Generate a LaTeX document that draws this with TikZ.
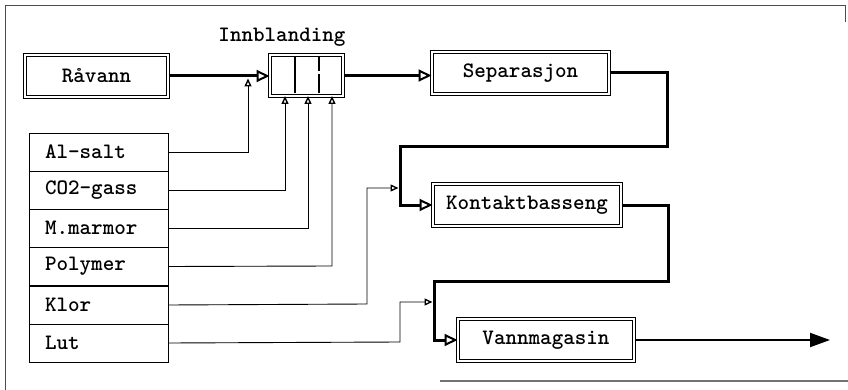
\documentclass[tikz,border=0pt]{standalone}
\usetikzlibrary{arrows.meta}

\tikzset{
  lbl/.style={font=\ttfamily\bfseries\fontsize{22}{22}\selectfont},
  proc/.style={lbl, draw, double, line width=1pt, double distance=2pt, inner sep=0pt},
  item/.style={lbl, draw, line width=0.9pt, minimum width=139pt, minimum height=38pt,
    inner sep=0pt, text width=107pt, align=left},
  feed/.style={line width=0.9pt, -{Triangle[open, length=8pt, width=7pt, line width=1.4pt]}},
  flow/.style={line width=3pt, line join=miter,
    -{Triangle[open, length=13pt, width=12pt, line width=2pt]}},
  outflow/.style={line width=2pt, -{Triangle[length=20pt, width=14pt]}},
  frame/.style={line width=1pt, black!70}
}

\begin{document}
\begin{tikzpicture}[x=1pt, y=-1pt]
  \useasboundingbox (0,0) rectangle (848,390);

  % page frame
  \draw[frame] (5,390) -- (5,6) -- (845,6) -- (845,22);
  \draw[frame, line width=1.5pt, black!55] (440,381) -- (848,381);

  % process boxes
  \node[proc, minimum width=143pt, minimum height=42pt] (ravann) at (96.5,76) {Råvann};
  \node[proc, minimum width=73pt, minimum height=41pt] (mix) at (306.5,75.5) {};
  \node[lbl] (mixlabel) at (282,37) {Innblanding};
  \node[proc, minimum width=177pt, minimum height=42pt] (sep) at (520.5,73) {Separasjon};
  \node[proc, minimum width=188pt, minimum height=42pt] (kont) at (527,205) {Kontaktbasseng};
  \node[proc, minimum width=176pt, minimum height=42pt] (vann) at (546,340) {Vannmagasin};

  % mixer compartments
  \coordinate (d1t) at (295,57.5);
  \coordinate (d1b) at (295,93.5);
  \coordinate (d2t) at (319,57.5);
  \coordinate (d2b) at (319,93.5);
  \draw[line width=1.2pt] (d1t) -- (d1b);
  \draw[line width=1.2pt] (d2t) -- (319,71) (319,74) -- (d2b);

  % chemicals list
  \node[item] (al)   at (98.5,152) {Al-salt};
  \node[item] (co2)  at (98.5,190) {CO2-gass};
  \node[item] (marm) at (98.5,228) {M.marmor};
  \node[item] (poly) at (98.5,266.5) {Polymer};
  \node[item] (klor) at (98.5,305) {Klor};
  \node[item] (lut)  at (98.5,343) {Lut};

  % main water line
  \draw[flow] (ravann.east) -- (ravann.east -| mix.west);
  \draw[flow] (mix.east) -- (mix.east -| sep.west);
  \draw[flow] (sep.east) -| (667,147) -- (400,147) |- (kont.west);
  \draw[flow] (kont.east) -| (668,281) -- (434,281) |- (vann.west);
  \coordinate (outlet) at (830,340);
  \draw[outflow] (vann.east) -- (outlet);

  % chemical feeds
  \coordinate (alin) at (248,78.5);
  \coordinate (klorin) at (398.5,188);
  \coordinate (lutin) at (432.5,302);
  \draw[feed] (al.east) -- (248,152) -- (alin);
  \draw[feed] (co2.east) -- (285,190) -- (285,96);
  \draw[feed] (marm.east) -- (308,228) -- (308,96);
  \draw[feed] (poly.east) -- (332,266) -- (332,96);
  \draw[feed] (klor.east) -- (367,304) -- (367,188) -- (klorin);
  \draw[feed] (lut.east) -- (400,342) -- (400,302) -- (lutin);
\end{tikzpicture}
\end{document}
